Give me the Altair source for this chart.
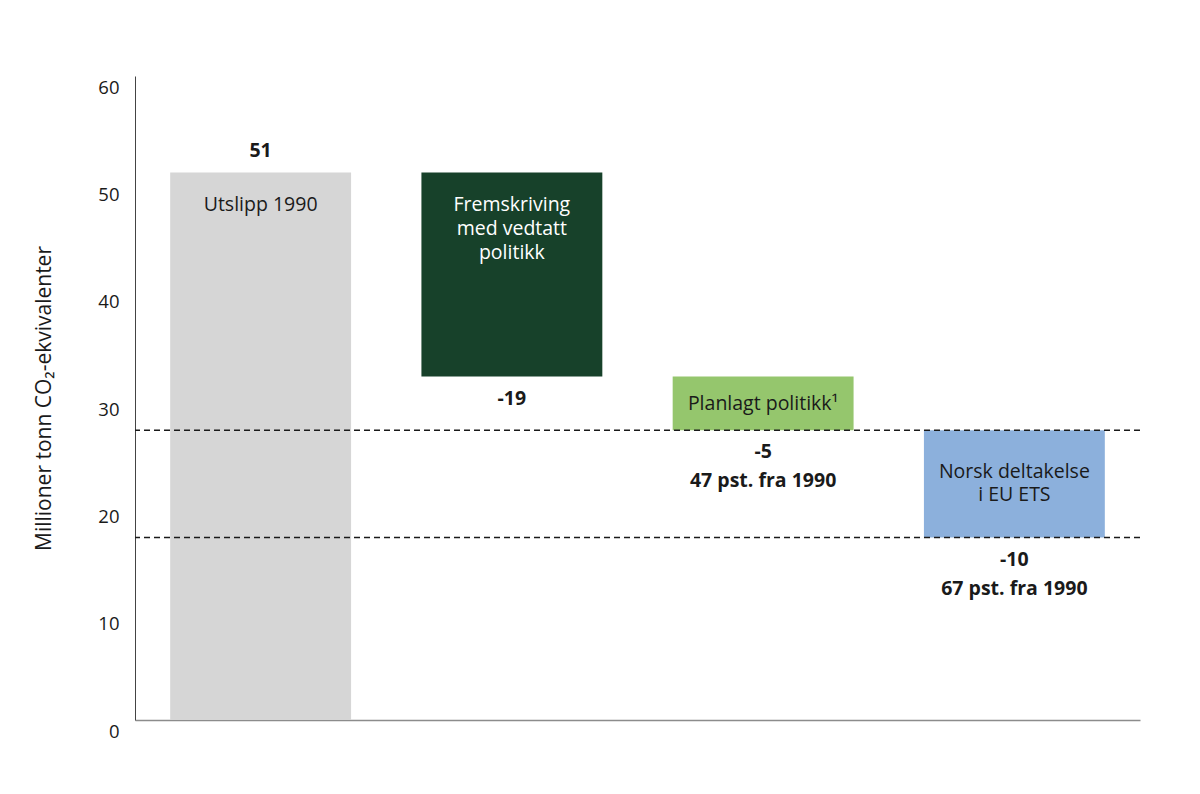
import altair as alt
import pandas as pd

categories = ["Utslipp 1990", "Fremskriving med vedtatt politikk", "Planlagt politikk", "Norsk deltakelse i EU ETS"]
starts = [0, 51, 32, 27]
ends = [51, 32, 27, 17]
value_labels = ["51", "-19", "-5", "-10"]
pct_labels = ["", "", "47 pst. fra 1990", "67 pst. fra 1990"]
inside_labels = ["Utslipp 1990", "Fremskriving\nmed vedtatt\npolitikk", "Planlagt politikk\u00b9", "Norsk deltakelse\ni EU ETS"]
inside_pos = ["top", "top", "mid", "top2"]
text_colors = ["#1a1a1a", "#ffffff", "#1a1a1a", "#1a1a1a"]
bar_colors = ["#d6d6d6", "#17412a", "#95c66d", "#8cb0dc"]
target_levels = [27, 17]

FONT = "Open Sans"
FS = 19.5

df = pd.DataFrame({
    "cat": categories,
    "start": starts,
    "end": ends,
    "vlabel": value_labels,
    "plabel": pct_labels,
    "ilabel": inside_labels,
    "ipos": inside_pos,
    "tcolor": text_colors,
})
df["hi"] = df[["start", "end"]].max(axis=1)
df["lo"] = df[["start", "end"]].min(axis=1)
df["mid"] = (df["start"] + df["end"]) / 2
df["up"] = df["end"] > df["start"]

lines = pd.DataFrame({"level": target_levels})

x_enc = alt.X("cat:N", sort=categories,
              scale=alt.Scale(paddingInner=0.28, paddingOuter=0.14),
              axis=alt.Axis(title=None, labels=False, ticks=False, domain=True,
                            domainColor="#8c8c8c", domainWidth=1.5))
y_scale = alt.Scale(domain=[0, 60], nice=False, zero=True)
xs = alt.X("cat:N", sort=categories)

base = alt.Chart(df)

bars = base.mark_bar(opacity=1).encode(
    x=x_enc,
    y=alt.Y("lo:Q", scale=y_scale,
            axis=alt.Axis(title="Millioner tonn CO\u2082-ekvivalenter", values=[0, 10, 20, 30, 40, 50, 60],
                          grid=False, ticks=False, domain=True, domainColor="#444444",
                          labelFont=FONT, labelFontSize=18.5, labelColor="#1a1a1a",
                          labelPadding=16, labelOffset=11, labelBaseline="middle",
                          titleFont=FONT, titleFontSize=21, titleFontWeight="normal",
                          titleColor="#1a1a1a", titleX=-91, titleY=322, titleBaseline="middle")),
    y2="hi:Q",
    color=alt.Color("cat:N", scale=alt.Scale(domain=categories, range=bar_colors), legend=None),
)

rules = alt.Chart(lines).mark_rule(color="#1a1a1a", strokeWidth=1.5, strokeDash=[6, 4]).encode(
    y=alt.Y("level:Q", scale=y_scale)
)

val_up = base.transform_filter("datum.up").mark_text(
    font=FONT, fontSize=FS, fontWeight="bold", color="#1a1a1a", baseline="middle", dy=-22
).encode(x=xs, y=alt.Y("hi:Q", scale=y_scale), text="vlabel:N")

val_down = base.transform_filter("!datum.up").mark_text(
    font=FONT, fontSize=FS, fontWeight="bold", color="#1a1a1a", baseline="middle", dy=22
).encode(x=xs, y=alt.Y("lo:Q", scale=y_scale), text="vlabel:N")

pct = base.transform_filter("datum.plabel != ''").mark_text(
    font=FONT, fontSize=FS, fontWeight="bold", color="#1a1a1a", baseline="middle", dy=51
).encode(x=xs, y=alt.Y("lo:Q", scale=y_scale), text="plabel:N")

in_top = base.transform_filter("datum.ipos == 'top'").mark_text(
    font=FONT, fontSize=FS, baseline="middle", dy=32, lineBreak="\n", lineHeight=24
).encode(x=xs, y=alt.Y("hi:Q", scale=y_scale), text="ilabel:N",
         color=alt.Color("tcolor:N", scale=None))

in_top2 = base.transform_filter("datum.ipos == 'top2'").mark_text(
    font=FONT, fontSize=FS, baseline="middle", dy=42, lineBreak="\n", lineHeight=23
).encode(x=xs, y=alt.Y("hi:Q", scale=y_scale), text="ilabel:N",
         color=alt.Color("tcolor:N", scale=None))

in_mid = base.transform_filter("datum.ipos == 'mid'").mark_text(
    font=FONT, fontSize=FS, baseline="middle", dy=1
).encode(x=xs, y=alt.Y("mid:Q", scale=y_scale), text="ilabel:N",
         color=alt.Color("tcolor:N", scale=None))

chart = alt.layer(bars, rules, val_up, val_down, pct, in_top, in_top2, in_mid).properties(
    width=1005, height=644,
    background="white",
    autosize=alt.AutoSizeParams(type="none"),
    padding={"left": 127, "top": 68, "right": 52, "bottom": 60},
).configure_view(strokeWidth=0, stroke="transparent")

chart.save("out.html", embed_options={"renderer": "svg", "actions": False})
